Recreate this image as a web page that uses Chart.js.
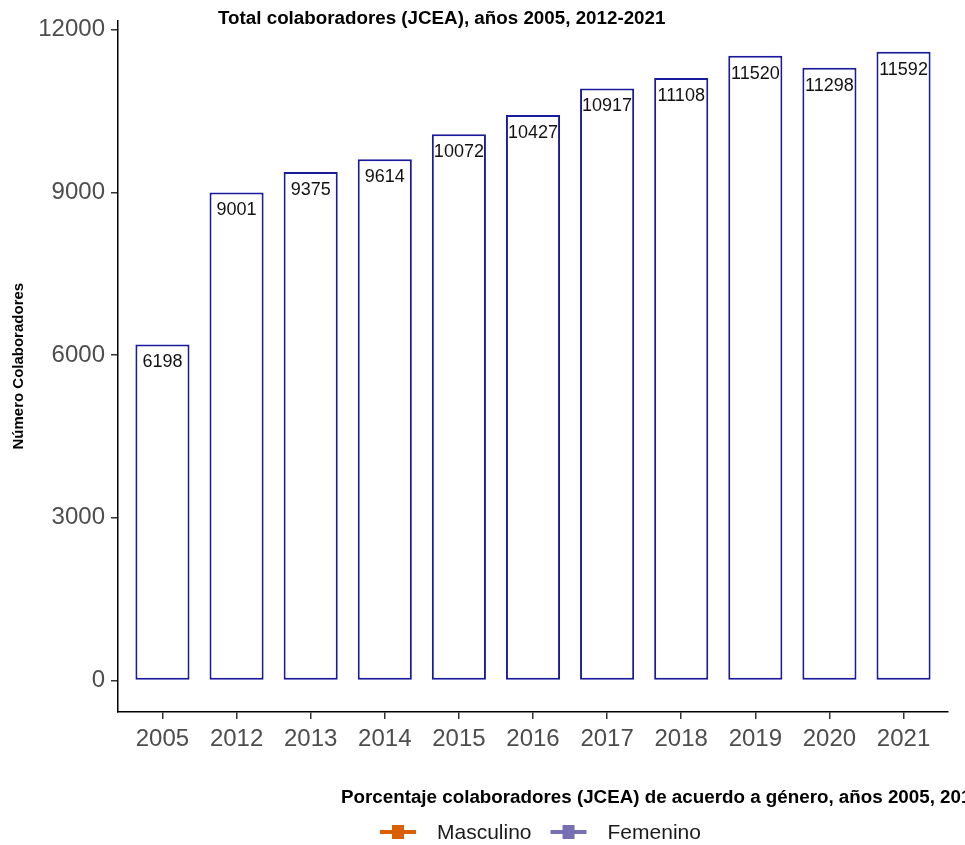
<!DOCTYPE html>
<html>
<head>
<meta charset="utf-8">
<script src="https://cdn.jsdelivr.net/npm/chart.js@4/dist/chart.umd.min.js"></script>
<style>
  html, body { margin: 0; padding: 0; background: #fff; }
  #wrap { position: relative; width: 965px; height: 845px; overflow: hidden; }
</style>
</head>
<body>
<div id="wrap"><canvas id="chart" width="965" height="845"></canvas></div>
<script>
// ── data ──
const years = ['2005', '2012', '2013', '2014', '2015', '2016', '2017', '2018', '2019', '2020', '2021'];
const totals = [6198, 9001, 9375, 9614, 10072, 10427, 10917, 11108, 11520, 11298, 11592];
const yTicks = [0, 3000, 6000, 9000, 12000];
const legendNames = ['Masculino', 'Femenino'];
const legendColors = ['#d95f02', '#7570b3'];

const TITLE = 'Total colaboradores (JCEA), años 2005, 2012-2021';
const NEXT_TITLE = 'Porcentaje colaboradores (JCEA) de acuerdo a género, años 2005, 2012-2021';

const FONT = "'Liberation Sans', Arial, sans-serif";

// value labels just under the top of each bar
const barLabels = {
    id: 'barLabels',
    afterDatasetsDraw(chart) {
        const ctx = chart.ctx;
        const meta = chart.getDatasetMeta(0);
        ctx.save();
        ctx.font = '18px ' + FONT;
        ctx.fillStyle = '#111';
        ctx.textAlign = 'center';
        ctx.textBaseline = 'middle';
        meta.data.forEach((bar, i) => {
            ctx.fillText(String(totals[i]), bar.x, bar.y + 18);
        });
        ctx.restore();
    }
};

// titles + the clipped start of the next chart
const extras = {
    id: 'extras',
    afterDraw(chart) {
        const ctx = chart.ctx;
        ctx.save();
        ctx.fillStyle = '#000';
        ctx.textBaseline = 'middle';
        ctx.textAlign = 'left';
        ctx.font = 'bold 18.8px ' + FONT;
        ctx.fillText(TITLE, 218, 19);
        ctx.fillText(NEXT_TITLE, 341, 798);

        // legend of the next chart
        ctx.font = '21px ' + FONT;
        let x = 380;
        legendNames.forEach((name, i) => {
            const c = legendColors[i];
            ctx.strokeStyle = c;
            ctx.fillStyle = c;
            ctx.lineWidth = 4;
            ctx.beginPath();
            ctx.moveTo(x, 832);
            ctx.lineTo(x + 36, 832);
            ctx.stroke();
            ctx.fillRect(x + 12, 825, 12, 14);
            ctx.fillStyle = '#1a1a1a';
            ctx.fillText(name, x + 57, 833);
            x += 57 + ctx.measureText(name).width + 19;
        });
        ctx.restore();
    }
};

new Chart(document.getElementById('chart'), {
    type: 'bar',
    data: {
        datasets: [{
            data: totals.map((v, i) => ({ x: i, y: v })),
            backgroundColor: '#ffffff',
            borderColor: '#1a1a9c',
            borderWidth: 2,
            borderSkipped: false,
            categoryPercentage: 1,
            barPercentage: 0.73,
        }]
    },
    options: {
        responsive: false,
        animation: false,
        events: [],
        layout: { padding: { top: 18, right: 17, bottom: 0, left: 0 } },
        plugins: {
            legend: { display: false },
            tooltip: { enabled: false },
        },
        scales: {
            x: {
                type: 'linear',
                offset: false,
                min: -0.6,
                max: years.length - 0.4,
                afterBuildTicks: (axis) => { axis.ticks = years.map((_, i) => ({ value: i })); },
                afterFit: (axis) => { axis.height = 133; },
                grid: { display: true, offset: false, drawOnChartArea: false, drawTicks: true, tickLength: 7, color: '#333', lineWidth: 1.5 },
                border: { display: true, color: '#000', width: 1.5 },
                ticks: {
                    autoSkip: false,
                    maxRotation: 0,
                    padding: 6,
                    color: '#4d4d4d',
                    font: { size: 24, family: FONT },
                    callback: (v) => years[v],
                },
            },
            y: {
                min: -580,
                max: 12172,
                afterBuildTicks: (axis) => { axis.ticks = yTicks.map(v => ({ value: v })); },
                afterFit: (axis) => { axis.width = 118; },
                grid: { display: true, drawOnChartArea: false, drawTicks: true, tickLength: 7, color: '#333', lineWidth: 1.5 },
                border: { display: true, color: '#000', width: 1.5 },
                ticks: {
                    padding: 6,
                    color: '#4d4d4d',
                    font: { size: 24, family: FONT },
                    callback: (v) => String(v),
                },
                title: {
                    display: true,
                    text: 'Número Colaboradores',
                    color: '#000',
                    font: { size: 15, weight: 'bold', family: FONT },
                    padding: { top: 10, bottom: 0 },
                },
            }
        }
    },
    plugins: [barLabels, extras],
});
</script>
</body>
</html>
